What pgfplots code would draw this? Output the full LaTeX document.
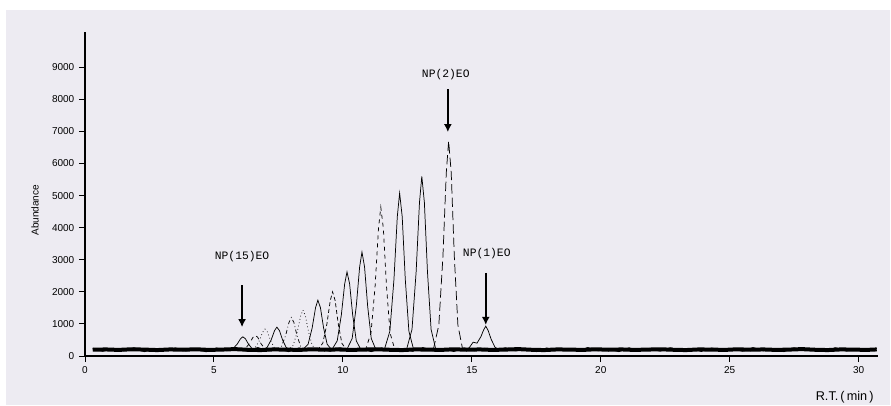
\documentclass[border=0pt]{standalone}
\usepackage{fontspec}
\setmainfont{Liberation Sans}
\newfontfamily\monofont{Liberation Mono}
\usepackage{pgfplots}
\pgfplotsset{compat=1.18}
\usetikzlibrary{arrows.meta}
\definecolor{panel}{RGB}{237,235,242}

\begin{document}
\begin{tikzpicture}
% page: 891x405 px at 0.75pt per px
\path[use as bounding box] (0,0) rectangle (668.25pt,303.75pt);
\fill[panel] (4.5pt,0) rectangle (667.5pt,296.25pt);

\begin{axis}[
    at={(63.75pt,36.75pt)}, anchor=origin,
    scale only axis,
    width=594.75pt, height=243pt,
    xmin=0, xmax=30.75,
    ymin=0, ymax=10100,
    axis lines=left,
    axis line style={-, line width=0.8pt},
    tick align=outside,
    major tick length=4.5pt,
    tick style={line width=0.7pt, black},
    xtick={0,5,...,30},
    ytick={0,1000,...,9000},
    scaled ticks=false,
    minor tick num=0,
    tick label style={font=\fontsize{7.5}{8}\selectfont},
    /pgf/number format/assume math mode=true,
    /pgf/number format/1000 sep={},
    ylabel={Abundance},
    ylabel style={at={(axis description cs:-0.063,0.45)}, anchor=center, font=\fontsize{7.5}{8}\selectfont},
    xlabel={R.T.\,(\,min\,)},
    xlabel style={at={(axis description cs:0.958,-0.127)}, anchor=center, font=\fontsize{9.5}{10}\selectfont},
    every axis plot/.append style={black, line width=0.55pt},
]
% baseline noise
\addplot[line width=3pt] coordinates {(0.3,195)(0.8,205)(1.3,190)(1.8,210)(2.3,200)(2.8,185)(3.3,205)(3.8,195)(4.3,210)(4.8,190)(5.3,200)(5.8,215)(6.3,195)(6.8,185)(7.3,205)(7.8,200)(8.3,190)(8.8,210)(9.3,195)(9.8,205)(10.3,190)(10.8,200)(11.3,210)(11.8,195)(12.3,185)(12.8,205)(13.3,200)(13.8,190)(14.3,210)(14.8,195)(15.3,205)(15.8,190)(16.3,200)(16.8,215)(17.3,195)(17.8,185)(18.3,205)(18.8,200)(19.3,190)(19.8,210)(20.3,195)(20.8,205)(21.3,190)(21.8,200)(22.3,210)(22.8,195)(23.3,185)(23.8,205)(24.3,200)(24.8,190)(25.3,210)(25.8,195)(26.3,205)(26.8,190)(27.3,200)(27.8,215)(28.3,195)(28.8,185)(29.3,205)(29.8,200)(30.3,190)(30.7,205)};
\addplot[line width=0.8pt] coordinates {(0.3,240)(0.7,150)(1.1,235)(1.5,165)(1.9,255)(2.3,140)(2.7,225)(3.1,175)(3.5,250)(3.9,160)(4.3,215)(4.7,135)(5.1,245)(5.5,170)(5.9,230)(6.3,150)(6.7,260)(7.1,165)(7.5,220)(7.9,140)(8.3,250)(8.7,175)(9.1,235)(9.5,150)(9.9,255)(10.3,160)(10.7,225)(11.1,140)(11.5,245)(11.9,170)(12.3,230)(12.7,155)(13.1,260)(13.5,165)(13.9,220)(14.3,145)(14.7,250)(15.1,170)(15.5,235)(15.9,150)(16.3,255)(16.7,160)(17.1,225)(17.5,140)(17.9,245)(18.3,175)(18.7,230)(19.1,150)(19.5,260)(19.9,165)(20.3,220)(20.7,140)(21.1,250)(21.5,170)(21.9,235)(22.3,155)(22.7,255)(23.1,160)(23.5,225)(23.9,145)(24.3,245)(24.7,175)(25.1,230)(25.5,150)(25.9,260)(26.3,165)(26.7,220)(27.1,140)(27.5,250)(27.9,170)(28.3,235)(28.7,155)(29.1,255)(29.5,160)(29.9,225)(30.3,145)(30.7,240)};

% ion traces, NP(15)EO ... NP(1)EO
\addplot[solid] coordinates {(5.52,180)(5.74,230)(5.90,369)(6.03,537)(6.12,600)(6.22,537)(6.34,369)(6.48,230)(6.67,180)};
\addplot[dashed] coordinates {(6.00,180)(6.22,236)(6.38,392)(6.51,580)(6.60,650)(6.70,580)(6.82,392)(6.96,236)(7.15,180)};
\addplot[dotted] coordinates {(6.38,180)(6.60,259)(6.76,477)(6.89,741)(6.98,840)(7.08,741)(7.20,477)(7.34,259)(7.53,180)};
\addplot[solid] coordinates {(6.84,180)(7.06,266)(7.22,504)(7.35,792)(7.44,900)(7.54,792)(7.66,504)(7.80,266)(7.99,180)};
\addplot[dash dot] coordinates {(7.40,180)(7.62,302)(7.78,639)(7.91,1047)(8.00,1200)(8.10,1047)(8.22,639)(8.36,302)(8.55,180)};
\addplot[dotted] coordinates {(7.85,180)(8.07,330)(8.23,743)(8.36,1243)(8.45,1430)(8.55,1243)(8.67,743)(8.81,330)(9.00,180)};
\addplot[solid] coordinates {(8.43,180)(8.65,367)(8.81,882)(8.94,1506)(9.03,1740)(9.13,1506)(9.25,882)(9.39,367)(9.58,180)};
\addplot[densely dashed] coordinates {(9.00,180)(9.22,398)(9.38,999)(9.51,1727)(9.60,2000)(9.70,1727)(9.82,999)(9.96,398)(10.15,180)};
\addplot[solid] coordinates {(9.56,180)(9.78,473)(9.94,1278)(10.07,2254)(10.16,2620)(10.26,2254)(10.38,1278)(10.52,473)(10.71,180)};
\addplot[solid] coordinates {(10.14,180)(10.36,547)(10.52,1557)(10.65,2781)(10.74,3240)(10.84,2781)(10.96,1557)(11.10,547)(11.29,180)};
\addplot[dashed] coordinates {(10.87,180)(11.09,715)(11.25,2187)(11.38,3971)(11.47,4640)(11.57,3971)(11.69,2187)(11.83,715)(12.02,180)};
\addplot[solid] coordinates {(11.60,180)(11.82,768)(11.98,2385)(12.11,4345)(12.20,5080)(12.30,4345)(12.42,2385)(12.56,768)(12.75,180)};
\addplot[solid] coordinates {(12.46,180)(12.68,830)(12.84,2619)(12.97,4787)(13.06,5600)(13.16,4787)(13.28,2619)(13.42,830)(13.61,180)};
\addplot[dash pattern=on 7pt off 3pt] coordinates {(13.50,180)(13.72,962)(13.88,3114)(14.01,5722)(14.10,6700)(14.20,5722)(14.32,3114)(14.46,962)(14.65,180)};
\addplot[solid] coordinates {(14.70,180)(14.90,260)(15.05,430)(15.20,400)(15.35,600)(15.46,818)(15.54,930)(15.63,800)(15.75,520)(15.90,270)(16.10,180)};

% annotations
\node[font=\monofont\fontsize{8.5}{9}\selectfont] at (axis cs:6.09,3115) {NP(15)EO};
\node[font=\monofont\fontsize{8.5}{9}\selectfont] at (axis cs:13.99,8785) {NP(2)EO};
\node[font=\monofont\fontsize{8.5}{9}\selectfont] at (axis cs:15.58,3180) {NP(1)EO};
\draw[line width=1.5pt, -{Latex[length=6pt,width=6pt]}] (axis cs:6.09,2210) -- (axis cs:6.09,900);
\draw[line width=1.5pt, -{Latex[length=6pt,width=6pt]}] (axis cs:14.07,8320) -- (axis cs:14.07,6980);
\draw[line width=1.5pt, -{Latex[length=6pt,width=6pt]}] (axis cs:15.54,2590) -- (axis cs:15.54,970);
\end{axis}
\end{tikzpicture}
\end{document}
